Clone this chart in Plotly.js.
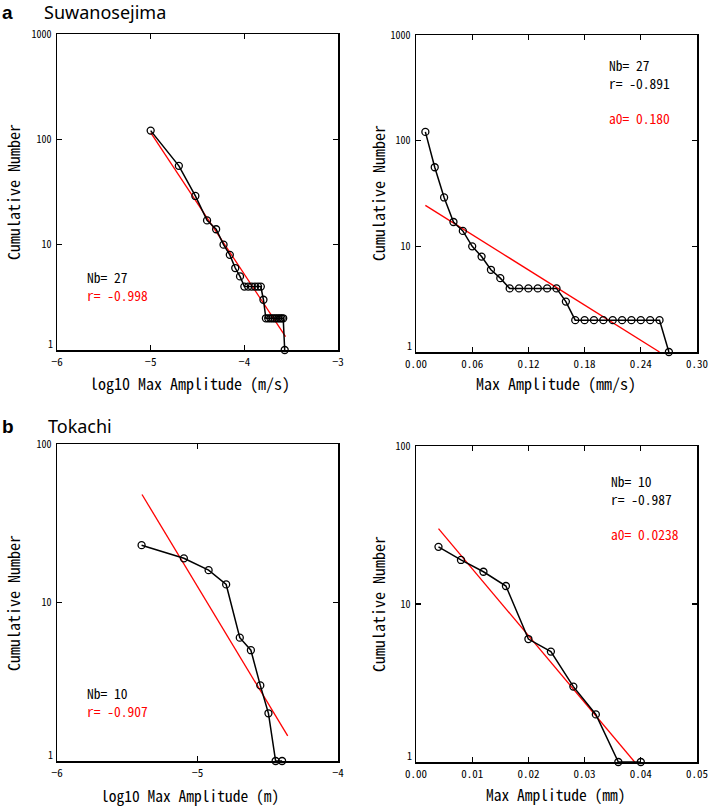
<!DOCTYPE html>
<html>
<head>
<meta charset="utf-8">
<script src="https://cdn.plot.ly/plotly-3.0.1.min.js"></script>
<style>html,body{margin:0;padding:0;background:#fff;}#chart{width:710px;height:806px;}</style>
</head>
<body>
<div id="chart"></div>
<script>
// ---- Panel a: Suwanosejima ----
const suwaAmp = [0.01,0.02,0.03,0.04,0.05,0.06,0.07,0.08,0.09,0.10,0.11,0.12,0.13,0.14,0.15,0.16,0.17,0.18,0.19,0.20,0.21,0.22,0.23,0.24,0.25,0.26,0.27]; // mm/s
const suwaLogAmp = [-5.000,-4.699,-4.523,-4.398,-4.301,-4.222,-4.155,-4.097,-4.046,-4.000,-3.959,-3.921,-3.886,-3.854,-3.824,-3.796,-3.770,-3.745,-3.721,-3.699,-3.678,-3.658,-3.638,-3.620,-3.602,-3.585,-3.569]; // log10 m/s
const suwaNum = [121,56,29,17,14,10,8,6,5,4,4,4,4,4,4,3,2,2,2,2,2,2,2,2,2,2,1];
const suwaFitLogX = [-5.0,-3.56];
const suwaFitLogY = [116,1.34];
const suwaFitLinX = [0.01,0.26];
const suwaFitLinY = [24.4,1.0];

// ---- Panel b: Tokachi ----
const tokaAmp = [0.004,0.008,0.012,0.016,0.020,0.024,0.028,0.032,0.036,0.040]; // mm
const tokaLogAmp = [-5.398,-5.097,-4.921,-4.796,-4.699,-4.620,-4.553,-4.495,-4.444,-4.398]; // log10 m
const tokaNum = [23,19,16,13,6,5,3,2,1,1];
const tokaFitLogX = [-5.395,-4.358];
const tokaFitLogY = [48,1.44];
const tokaFitLinX = [0.004,0.0389];
const tokaFitLinY = [30,1.0];

// tick labels
const yTickVals = [1,10,100,1000];
const yTickText = ['','10','100','1000'];
const xTicksA = [-6,-5,-4,-3];
const xTicksA2 = [0,0.06,0.12,0.18,0.24,0.30];
const xTicksB = [-6,-5,-4];
const xTicksB2 = [0,0.01,0.02,0.03,0.04,0.05];

const MONO = '"Noto Sans Mono CJK JP", "Liberation Mono", monospace';
const W = 710, H = 806;
const px = v => v / W;
const py = v => 1 - v / H;

function dataTrace(x, y, xa, ya) {
  return {x: x, y: y, xaxis: xa, yaxis: ya, type: 'scatter', mode: 'lines+markers',
    line: {color: '#000', width: 1.5},
    marker: {symbol: 'circle-open', size: 7, color: '#000', line: {width: 1.3, color: '#000'}},
    cliponaxis: false, showlegend: false, hoverinfo: 'skip'};
}
function fitTrace(x, y, xa, ya) {
  return {x: x, y: y, xaxis: xa, yaxis: ya, type: 'scatter', mode: 'lines',
    line: {color: '#ff0000', width: 1.3}, showlegend: false, hoverinfo: 'skip'};
}

const traces = [
  fitTrace(suwaFitLogX, suwaFitLogY, 'x', 'y'),
  dataTrace(suwaLogAmp, suwaNum, 'x', 'y'),
  fitTrace(suwaFitLinX, suwaFitLinY, 'x2', 'y2'),
  dataTrace(suwaAmp, suwaNum, 'x2', 'y2'),
  fitTrace(tokaFitLogX, tokaFitLogY, 'x3', 'y3'),
  dataTrace(tokaLogAmp, tokaNum, 'x3', 'y3'),
  fitTrace(tokaFitLinX, tokaFitLinY, 'x4', 'y4'),
  dataTrace(tokaAmp, tokaNum, 'x4', 'y4')
];

const tickFont = {family: MONO, size: 11, color: '#000'};
function xAxis(domain, range, opts, anchor) {
  return Object.assign({domain: domain, range: range, anchor: anchor, showline: true, mirror: 'ticks',
    linecolor: '#000', linewidth: 1.5, ticks: 'inside', ticklen: 5, tickwidth: 1.2, tickcolor: '#000',
    showgrid: false, zeroline: false, tickfont: tickFont, ticklabelstandoff: 1}, opts);
}
function yAxis(domain, range, anchor) {
  return {domain: domain, range: range, anchor: anchor, type: 'log', showline: true, mirror: 'ticks',
    linecolor: '#000', linewidth: 1.5, ticks: 'inside', ticklen: 5, tickwidth: 1.2, tickcolor: '#000',
    showgrid: false, zeroline: false, tickfont: {family: MONO, size: 10, color: '#000'},
    tickvals: yTickVals, ticktext: yTickText, ticklabelstandoff: 2};
}

const annFont = (c, s) => ({family: MONO, size: s, color: c});
function txt(x, y, t, color, size, xanchor, yanchor) {
  return {xref: 'paper', yref: 'paper', x: px(x), y: py(y), text: t, showarrow: false,
    xanchor: xanchor || 'left', yanchor: yanchor || 'middle', font: annFont(color, size), borderpad: 0};
}
function ytitle(x, y, t) {
  return {xref: 'paper', yref: 'paper', x: px(x), y: py(y), text: t, showarrow: false,
    xanchor: 'center', yanchor: 'middle', textangle: -90, font: annFont('#000', 16)};
}
const RED = '#ff0000';
const red = s => '<span style="color:' + RED + '">' + s + '</span>';

const annotations = [
  {xref: 'paper', yref: 'paper', x: px(0), y: py(12), text: '<b>a</b>', showarrow: false, xanchor: 'left', yanchor: 'middle',
    font: {family: 'Liberation Sans, Arial, sans-serif', size: 19, color: '#000'}},
  {xref: 'paper', yref: 'paper', x: px(42), y: py(12), text: 'Suwanosejima', showarrow: false, xanchor: 'left', yanchor: 'middle',
    font: {family: '"Noto Sans", sans-serif', size: 18, color: '#000'}},
  {xref: 'paper', yref: 'paper', x: px(0), y: py(426), text: '<b>b</b>', showarrow: false, xanchor: 'left', yanchor: 'middle',
    font: {family: 'Liberation Sans, Arial, sans-serif', size: 19, color: '#000'}},
  {xref: 'paper', yref: 'paper', x: px(46), y: py(426), text: 'Tokachi', showarrow: false, xanchor: 'left', yanchor: 'middle',
    font: {family: '"Noto Sans", sans-serif', size: 18, color: '#000'}},

  ytitle(13, 192, 'Cumulative Number'),
  ytitle(378, 193, 'Cumulative Number'),
  ytitle(13, 603, 'Cumulative Number'),
  ytitle(378, 604, 'Cumulative Number'),

  txt(190, 383, 'log10 Max Amplitude (m/s)', '#000', 16, 'center'),
  txt(556, 383, 'Max Amplitude (mm/s)', '#000', 16, 'center'),
  txt(190, 795, 'log10 Max Amplitude (m)', '#000', 15.5, 'center'),
  txt(556, 794, 'Max Amplitude (mm)', '#000', 15.5, 'center'),

  // "1" labels of the log axes (placed just above the x tick labels)
  txt(54, 352, '1', '#000', 10, 'right', 'bottom'),
  txt(413, 354, '1', '#000', 10, 'right', 'bottom'),
  txt(54, 763, '1', '#000', 10, 'right', 'bottom'),
  txt(413, 764, '1', '#000', 10, 'right', 'bottom'),

  {xref: 'paper', yref: 'paper', x: px(86), y: py(266), text: 'Nb= 27<br>' + red('r= -0.998'), showarrow: false,
    xanchor: 'left', yanchor: 'top', align: 'left', font: annFont('#000', 13.5), borderpad: 0},
  {xref: 'paper', yref: 'paper', x: px(608), y: py(54), text: 'Nb= 27<br>r= -0.891<br><br>' + red('a0= 0.180'), showarrow: false,
    xanchor: 'left', yanchor: 'top', align: 'left', font: annFont('#000', 13.5), borderpad: 0},
  {xref: 'paper', yref: 'paper', x: px(86), y: py(682), text: 'Nb= 10<br>' + red('r= -0.907'), showarrow: false,
    xanchor: 'left', yanchor: 'top', align: 'left', font: annFont('#000', 13.5), borderpad: 0},
  {xref: 'paper', yref: 'paper', x: px(610), y: py(470), text: 'Nb= 10<br>r= -0.987<br><br>' + red('a0= 0.0238'), showarrow: false,
    xanchor: 'left', yanchor: 'top', align: 'left', font: annFont('#000', 13.5), borderpad: 0}
];

const layout = {
  width: W, height: H, margin: {l: 0, r: 0, t: 0, b: 0},
  paper_bgcolor: '#fff', plot_bgcolor: '#fff', showlegend: false,
  xaxis: xAxis([px(57), px(338)], [-6, -3], {tickvals: xTicksA}, 'y'),
  yaxis: yAxis([1 - 350/H, 1 - 34/H], [0, 3], 'x'),
  xaxis2: xAxis([px(416), px(697)], [0, 0.3], {tickvals: xTicksA2, tickformat: '.2f'}, 'y2'),
  yaxis2: yAxis([1 - 352/H, 1 - 35/H], [0, 3], 'x2'),
  xaxis3: xAxis([px(57), px(338)], [-6, -4], {tickvals: xTicksB}, 'y3'),
  yaxis3: yAxis([1 - 761/H, 1 - 444/H], [0, 2], 'x3'),
  xaxis4: xAxis([px(416), px(697)], [0, 0.05], {tickvals: xTicksB2, tickformat: '.2f'}, 'y4'),
  yaxis4: yAxis([1 - 762/H, 1 - 446/H], [0, 2], 'x4'),
  annotations: annotations
};

Plotly.newPlot('chart', traces, layout, {staticPlot: true, displayModeBar: false});
</script>
</body>
</html>
